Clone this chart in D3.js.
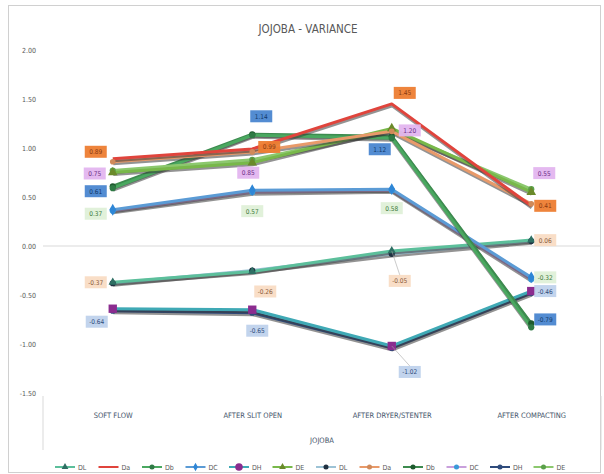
<!DOCTYPE html>
<html><head><meta charset="utf-8">
<script src="https://cdn.jsdelivr.net/npm/d3@7"></script>
<style>
body{margin:0;background:#fff;}
text{font-family:"Liberation Sans Narrow","DejaVu Sans Condensed","Liberation Sans",sans-serif;}
</style></head>
<body><svg id="c" width="604" height="474"></svg>
<script>
// ---- data ----
const categories = ["SOFT FLOW","AFTER SLIT OPEN","AFTER DRYER/STENTER","AFTER COMPACTING"];
const groupLabel = "JOJOBA";
const title = "JOJOBA - VARIANCE";
const seriesNames = ["DL","Da","Db","DC","DH","DE","DL","Da","Db","DC","DH","DE"];
const dL1 = [-0.37, -0.26, -0.05, 0.06];
const da1 = [0.89, 0.99, 1.45, 0.41];
const db1 = [0.59, 1.13, 1.10, -0.83];
const dC1 = [0.37, 0.57, 0.58, -0.32];
const dH1 = [-0.64, -0.65, -1.02, -0.46];
const dE1 = [0.75, 0.85, 1.20, 0.55];
const dL2 = [-0.38, -0.25, -0.08, 0.05];
const da2 = [0.86, 0.96, 1.17, 0.43];
const db2 = [0.61, 1.14, 1.12, -0.79];
const dC2 = [0.36, 0.55, 0.57, -0.34];
const dH2 = [-0.66, -0.68, -1.04, -0.48];
const dE2 = [0.77, 0.88, 1.18, 0.58];
const yTicks = [-1.5, -1.0, -0.5, 0, 0.5, 1.0, 1.5, 2.0];

const seriesValues = [dL1, da1, db1, dC1, dH1, dE1, dL2, da2, db2, dC2, dH2, dE2];

// ---- styles ----
const colors  = ["#5cbf9b","#e0443c","#4aa860","#5b9bd5","#3fa9b5","#78b84a",
                 "#9dc3d6","#e89a6a","#3d8b4f","#c9a0dc","#2f4b7c","#8cc86e"];
const mColors = ["#2e6f63",null,"#2f7a45","#2e86d6","#8b2c8f","#6a8a2a",
                 "#1f3040","#d08a5a","#1e5a2e","#3a9ad9","#2f4b7c","#5aa04a"];
const mShapes = [d3.symbolTriangle,null,d3.symbolCircle,d3.symbolDiamond,d3.symbolSquare,d3.symbolTriangle,
                 d3.symbolCircle,d3.symbolCircle,d3.symbolCircle,d3.symbolCircle,d3.symbolCircle,d3.symbolCircle];
const mSizes  = [30,0,30,40,70,40,30,25,30,30,30,30];
const drawOrder = [6,0,10,4,9,3,8,2,11,5,7,1];

const labelCfg = [
  {s:1, fill:"#ed7d31", tc:"#8a3a10", off:[[-17,-7],[17,-2],[13,-11],[14,0]]},
  {s:5, fill:"#e3b5ef", tc:"#6b2f86", off:[[-18,1],[-4,10],[18,2],[13,-19]]},
  {s:8, fill:"#4a86d0", tc:"#123a6a", off:[[-17,5],[9,-18],[-12,13],[14,-4]]},
  {s:3, fill:"#dff0d8", tc:"#3d7a3a", off:[[-17,4],[0,21],[0,19],[14,0]]},
  {s:0, fill:"#f9dcc4", tc:"#8a5a3a", off:[[-17,0],[13,20],[8,30],[14,0]]},
  {s:4, fill:"#bfd2ec", tc:"#2f4b7c", off:[[-16,13],[5,21],[18,26],[14,0]]}
];

const loc = d3.formatLocale({decimal:".",thousands:",",grouping:[3],currency:["",""],minus:"-"});
const fmt = loc.format(".2f");

const svg = d3.select("#c");
svg.append("rect").attr("x",8.5).attr("y",5.5).attr("width",592).attr("height",467)
  .attr("fill","#fff").attr("stroke","#d0d0d0");

const x = d3.scalePoint().domain(categories).range([43,601]).padding(0.5);
const y = d3.scaleLinear().domain([-1.5,2.0]).range([393,50]);

svg.append("text").attr("x",308).attr("y",33).attr("text-anchor","middle")
  .attr("font-size",11.5).attr("fill","#595959").text(title);

const yAxis = d3.axisLeft(y).tickValues(yTicks).tickFormat(fmt).tickSize(0);
const ya = svg.append("g").attr("transform","translate(36,0)").call(yAxis);
ya.select(".domain").remove();
ya.selectAll("text").attr("font-size",7).attr("fill","#595959").attr("x",0);

svg.append("line").attr("x1",43).attr("x2",601).attr("y1",y(0)).attr("y2",y(0))
  .attr("stroke","#d9d9d9").attr("stroke-width",1);

const xa = svg.append("g").attr("transform","translate(0,410)")
  .call(d3.axisBottom(x).tickSize(0));
xa.select(".domain").remove();
xa.selectAll("text").attr("font-size",7.5).attr("fill","#44546a");
svg.append("text").attr("x",322).attr("y",443).attr("text-anchor","middle")
  .attr("font-size",7.5).attr("fill","#44546a").text(groupLabel);
[43,601].forEach(xx=>svg.append("line").attr("x1",xx).attr("x2",xx).attr("y1",396).attr("y2",450)
  .attr("stroke","#d9d9d9"));

const line = d3.line().x((d,i)=>x(categories[i])).y(d=>y(d));
const lg = svg.append("g");
drawOrder.forEach(i=>{
  lg.append("path").datum(seriesValues[i]).attr("d",line)
    .attr("fill","none").attr("stroke","#3a3a3a").attr("stroke-opacity",0.55)
    .attr("stroke-width",3.5).attr("transform","translate(0.5,1.8)");
  lg.append("path").datum(seriesValues[i]).attr("d",line)
    .attr("fill","none").attr("stroke",colors[i]).attr("stroke-width",3)
    .attr("stroke-linejoin","round");
});
drawOrder.forEach(i=>{
  if(!mShapes[i]) return;
  lg.selectAll(null).data(seriesValues[i]).enter().append("path")
    .attr("d",d3.symbol().type(mShapes[i]).size(mSizes[i]))
    .attr("transform",(d,k)=>`translate(${x(categories[k])},${y(d)})`)
    .attr("fill",mColors[i]);
});

const labG = svg.append("g");
labelCfg.forEach(c=>{
  seriesValues[c.s].forEach((v,k)=>{
    const px = x(categories[k]), py = y(v);
    const lx = px + c.off[k][0], ly = py + c.off[k][1];
    if (Math.abs(c.off[k][1])>22) {
      labG.append("line").attr("x1",px).attr("y1",py).attr("x2",lx).attr("y2",ly-6)
        .attr("stroke","#a6a6a6").attr("stroke-width",0.6);
    }
    labG.append("rect").attr("x",lx-11).attr("y",ly-6).attr("width",22).attr("height",12)
      .attr("fill",c.fill).attr("opacity",0.95);
    labG.append("text").attr("x",lx).attr("y",ly+2.5).attr("text-anchor","middle")
      .attr("font-size",6.5).attr("fill",c.tc).text(fmt(v));
  });
});

const leg = svg.append("g");
seriesNames.forEach((n,i)=>{
  const x0 = 55 + i*43.5, yy = 467;
  leg.append("line").attr("x1",x0).attr("x2",x0+20).attr("y1",yy).attr("y2",yy)
    .attr("stroke",colors[i]).attr("stroke-width",2);
  if (mShapes[i]) {
    leg.append("path").attr("d",d3.symbol().type(mShapes[i]===d3.symbolSquare?d3.symbolCircle:mShapes[i]).size(i===4?45:20))
      .attr("transform",`translate(${x0+10},${yy})`).attr("fill",mColors[i]);
  }
  leg.append("text").attr("x",x0+23).attr("y",yy+2.5).attr("font-size",7)
    .attr("fill","#595959").text(n);
});
</script></body></html>
